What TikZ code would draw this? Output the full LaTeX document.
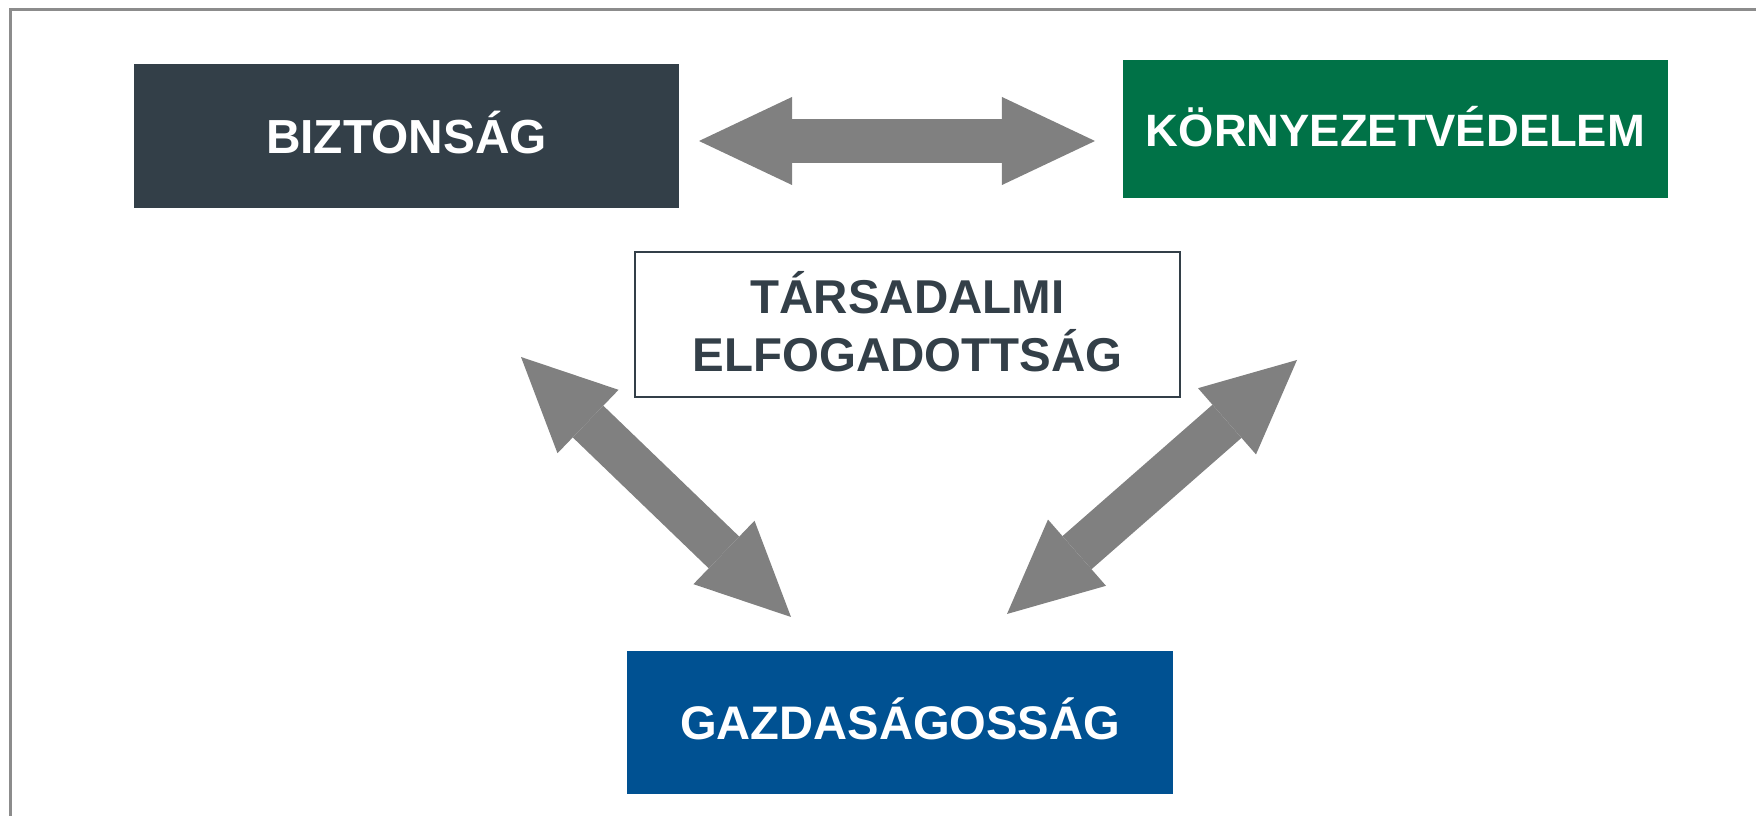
\documentclass[tikz,border=0pt]{standalone}
\usepackage{fontspec}
\setmainfont{Liberation Sans}
\usetikzlibrary{arrows.meta}
\definecolor{boxSlate}{RGB}{51, 63, 72}
\definecolor{boxGreen}{RGB}{0, 114, 71}
\definecolor{boxBlue}{RGB}{0, 81, 146}
\definecolor{arrowGray}{RGB}{128, 128, 128}
\definecolor{frameGray}{RGB}{140, 140, 140}

\begin{document}
\begin{tikzpicture}[x=0.01cm, y=-0.01cm,
    pillar/.style={inner sep=0pt, text height=9.8pt, text depth=0pt, text=white, minimum width=5.45cm},
    twoway/.style={line width=0.44cm, arrowGray,
      {Triangle[length=0.93cm, width=0.88cm, line width=0pt]}-{Triangle[length=0.93cm, width=0.88cm, line width=0pt]}}]
        \useasboundingbox (0,0) rectangle (1756,816);
        \draw[frameGray, line width=0.023cm] (10.5,816) -- (10.5,9.5) -- (1756,9.5);
        \node[pillar, fill=boxSlate, minimum height=1.44cm] (biz) at (406.5,136)
          {\fontsize{13.6}{16}\bfseries BIZTONSÁG};
        \node[pillar, fill=boxGreen, minimum height=1.38cm] (env) at (1395.5,129)
          {\fontsize{12.9}{16}\bfseries KÖRNYEZETVÉDELEM};
        \node[pillar, fill=boxBlue, minimum height=1.43cm] (eco) at (900,722.5)
          {\fontsize{13.4}{16}\bfseries GAZDASÁGOSSÁG};
        \node[draw=boxSlate, line width=0.015cm, fill=white, text=boxSlate, inner sep=0pt,
          minimum width=5.45cm, minimum height=1.45cm, align=center,
          text height=26.5pt, text depth=0pt,
          font=\fontsize{13.5}{16.4}\selectfont\bfseries] (soc) at (907.5,324.5)
          {TÁRSADALMI\\ELFOGADOTTSÁG};
        % arrow ends
        \coordinate (h1) at (699,141);
        \coordinate (h2) at (1095,141);
        \coordinate (l1) at (521,357);
        \coordinate (l2) at (791,617);
        \coordinate (r1) at (1297,360);
        \coordinate (r2) at (1007,614);
        \draw[twoway] (h1) -- (h2);
        \draw[twoway] (l1) -- (l2);
        \draw[twoway] (r1) -- (r2);
      \end{tikzpicture}
\end{document}
